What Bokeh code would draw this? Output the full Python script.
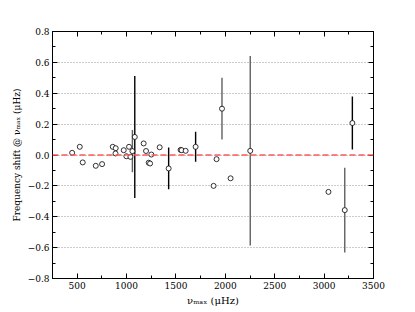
from bokeh.plotting import figure
from bokeh.models import (ColumnDataSource, Span, LinearAxis, SingleIntervalTicker,
                          Range1d, CustomJSTickFormatter)
from bokeh.embed import file_html
from bokeh.resources import INLINE

# Points without error bars
numax_plain = [449, 526, 556, 688, 752, 860, 890, 888, 971, 998, 1025, 1039,
               1173, 1197, 1224, 1238, 1251, 1335, 1547, 1557, 1598, 1911,
               1881, 2053, 3044]
shift_plain = [0.014, 0.053, -0.048, -0.070, -0.059, 0.053, 0.044, 0.010,
               0.031, -0.008, 0.053, -0.012, 0.075, 0.026, -0.050, -0.055,
               0.003, 0.050, 0.033, 0.031, 0.027, -0.027, -0.200, -0.151,
               -0.239]

# Points with error bars
numax_err = [1059, 1083, 1426, 1699, 1966, 2252, 3209, 3286]
shift_err = [0.025, 0.117, -0.087, 0.053, 0.300, 0.027, -0.357, 0.207]
sigma_err = [0.137, 0.395, 0.135, 0.097, 0.200, 0.614, 0.275, 0.172]
bar_color = ["#606060", "black", "black", "black", "#606060", "#606060",
             "#606060", "black"]

FONT = "DejaVu Serif"

p = figure(width=400, height=308,
           x_range=Range1d(250, 3500), y_range=Range1d(-0.8, 0.8),
           output_backend="svg", toolbar_location=None,
           min_border_left=52, min_border_top=31, min_border_right=27,
           min_border_bottom=28, background_fill_color="white",
           border_fill_color="white")
p.outline_line_color = "black"
p.outline_line_width = 1

p.xaxis.ticker = SingleIntervalTicker(interval=500, num_minor_ticks=2)
p.yaxis.ticker = SingleIntervalTicker(interval=0.2, num_minor_ticks=2)
p.yaxis.formatter = CustomJSTickFormatter(
    code="return tick.toFixed(1).replace('-', '\u2212');")

for ax in [p.xaxis[0], p.yaxis[0]]:
    ax.major_tick_in = 5
    ax.major_tick_out = 0
    ax.minor_tick_in = 3
    ax.minor_tick_out = 0
    ax.axis_line_color = "black"
    ax.major_label_text_font = FONT
    ax.major_label_text_font_size = "9px"
    ax.major_label_text_color = "black"
    ax.axis_label_text_font = FONT
    ax.axis_label_text_font_style = "normal"
    ax.axis_label_text_color = "black"
    ax.major_label_standoff = 3
    ax.axis_label_standoff = 3

p.xaxis.axis_label_text_font_size = "10px"
p.yaxis.axis_label_text_font_size = "9px"
p.xaxis.axis_label = "\u03bd\u2098\u2090\u2093 (\u03bcHz)"
p.yaxis.axis_label = "Frequency shift @ \u03bd\u2098\u2090\u2093 (\u03bcHz)"

blank = CustomJSTickFormatter(code="return '';")
for loc, tk in [("right", SingleIntervalTicker(interval=0.2, num_minor_ticks=2)),
                ("above", SingleIntervalTicker(interval=500, num_minor_ticks=2))]:
    ax = LinearAxis(ticker=tk, major_tick_in=5, major_tick_out=0,
                    minor_tick_in=3, minor_tick_out=0, formatter=blank,
                    major_label_standoff=0, major_label_text_font_size="9px")
    p.add_layout(ax, loc)

p.xgrid.visible = False
p.ygrid.grid_line_color = "#999999"
p.ygrid.grid_line_dash = "1 2"
p.ygrid.grid_line_width = 1

p.add_layout(Span(location=0, dimension="width", line_color="#ff5a5a",
                  line_dash="6 3", line_width=1.6))

src_err = ColumnDataSource(dict(
    x=numax_err, y=shift_err,
    lo=[y - s for y, s in zip(shift_err, sigma_err)],
    hi=[y + s for y, s in zip(shift_err, sigma_err)],
    c=bar_color))
p.segment(x0="x", y0="lo", x1="x", y1="hi", source=src_err,
          line_color="c", line_width=1.4)

p.scatter(numax_plain, shift_plain, marker="circle", size=5,
          fill_color="white", line_color="black", line_width=0.8)
p.scatter("x", "y", source=src_err, marker="circle", size=5,
          fill_color="white", line_color="black", line_width=0.8)

open("out.html", "w").write(file_html(p, INLINE))
